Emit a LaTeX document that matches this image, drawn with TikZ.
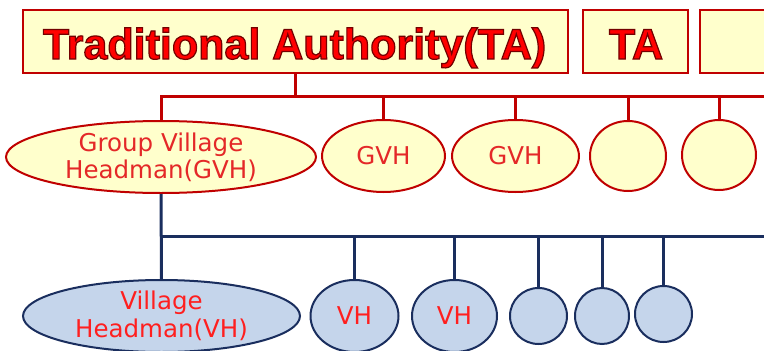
\documentclass[tikz,border=0pt]{standalone}
\usepackage{fontspec}
\setmainfont{Liberation Sans}
\newfontfamily\djv{DejaVu Sans}
\usetikzlibrary{shapes.geometric}
\definecolor{boxfill}{HTML}{FFFFCC}
\definecolor{redline}{HTML}{C00000}
\definecolor{titlered}{HTML}{FF0000}
\definecolor{gvhred}{HTML}{E42828}
\definecolor{vhred}{HTML}{FF1F1F}
\definecolor{bluefill}{HTML}{C5D5EB}
\definecolor{navy}{HTML}{1A2E5E}
\newcommand{\edgedtext}[1]{\special{pdf:literal 2 Tr 1.2 w 0.45 0 0 RG}#1\special{pdf:literal 0 Tr}}
\begin{document}
\begin{tikzpicture}[x=1pt,y=-1pt,
  tabox/.style={rectangle, draw=redline, fill=boxfill, line width=2.5pt, inner sep=0pt},
  titletext/.style={font=\fontsize{43}{43}\selectfont\bfseries, text=titlered, inner sep=0pt, anchor=base},
  gvh/.style={ellipse, draw=redline, fill=boxfill, line width=2pt, inner sep=0pt,
    font=\djv\fontsize{24.5}{27}\selectfont, text=gvhred, align=center},
  vh/.style={ellipse, draw=navy, fill=bluefill, line width=2pt, inner sep=0pt,
    font=\djv\fontsize{24.5}{28}\selectfont, text=vhred, align=center},
  redconn/.style={draw=redline, line width=3pt, line join=miter},
  blueconn/.style={draw=navy, line width=3pt, line join=miter}]
\clip (0,0) rectangle (764,351);
\fill[white] (0,0) rectangle (764,351);

% top boxes
\node[tabox, minimum width=545pt, minimum height=63pt] (ta1) at (295.5,41.5) {};
\node[tabox, minimum width=105pt, minimum height=63pt] (ta2) at (635.5,41.5) {};
\node[tabox, minimum width=110pt, minimum height=63pt] (ta3) at (755,41.5) {};
\node[titletext] (ti) at (294.5,59) {\edgedtext{Traditional Authority(TA)}};
\node[titletext] (tat) at (636,59) {\edgedtext{TA}};

% GVH row
\node[gvh, minimum width=310pt, minimum height=72pt] (g1) at (161,157) {Group Village\\Headman(GVH)};
\node[gvh, minimum width=123pt, minimum height=72pt] (g2) at (383.5,156) {GVH};
\node[gvh, minimum width=127pt, minimum height=72pt] (g3) at (515.5,156) {GVH};
\node[gvh, minimum width=76pt, minimum height=70pt] (g4) at (628,156) {};
\node[gvh, minimum width=74pt, minimum height=70pt] (g5) at (719,155) {};

% VH row
\node[vh, minimum width=277pt, minimum height=72pt] (v1) at (161.5,316) {Village\\Headman(VH)};
\node[vh, minimum width=88pt, minimum height=72pt] (v2) at (354.5,316) {VH};
\node[vh, minimum width=85pt, minimum height=72pt] (v3) at (454.5,316) {VH};
\node[vh, minimum width=57pt, minimum height=56pt] (v4) at (538.5,316) {};
\node[vh, minimum width=54pt, minimum height=56pt] (v5) at (602,316) {};
\node[vh, minimum width=57pt, minimum height=56pt] (v6) at (663.5,314) {};

% red connectors
\coordinate (rj) at (295.5,96);
\coordinate (rr) at (775,96);
\draw[redconn] (ta1.south) -- (rj);
\draw[redconn] (rr) -- (g1.north |- rj) -- (g1.north);
\foreach \n in {g2,g3,g4,g5} \draw[redconn] (\n.north |- rj) -- (\n.north);

% blue connectors
\coordinate (bj) at (161,236);
\coordinate (br) at (775,236);
\draw[blueconn] (g1.south) -- (v1.north);
\draw[blueconn] (g1.south |- bj) -- (br);
\foreach \n in {v2,v3,v4,v5,v6} \draw[blueconn] (\n.north |- bj) -- (\n.north);
\end{tikzpicture}
\end{document}
